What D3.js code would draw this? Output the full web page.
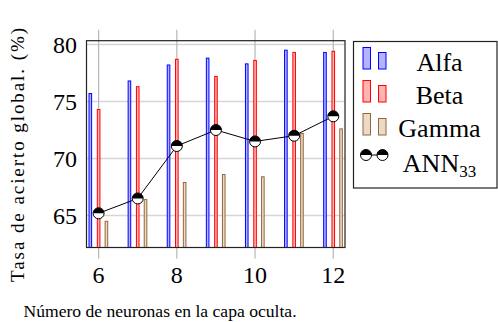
<!DOCTYPE html>
<html>
<head>
<meta charset="utf-8">
<script src="https://cdn.jsdelivr.net/npm/d3@7"></script>
<style>
body { margin: 0; background: #fff; }
text { font-family: "Liberation Serif", "DejaVu Serif", serif; fill: #000; }
</style>
</head>
<body>
<svg id="chart" width="498" height="322"></svg>
<script>
// neuronas en la capa oculta
var neurons = [6, 7, 8, 9, 10, 11, 12];
var alfa  = [75.7, 76.8, 78.2, 78.8, 78.3, 79.5, 79.3];
var beta  = [74.3, 76.3, 78.7, 77.2, 78.6, 79.3, 79.4];
var gamma = [64.5, 66.4, 67.9, 68.6, 68.4, 72.2, 72.6];
var ann33 = [65.2, 66.5, 71.1, 72.5, 71.5, 72.0, 73.7];
var xTicks = [6, 8, 10, 12];
var yTicks = [65, 70, 75, 80];

var svg = d3.select("#chart");

var x = d3.scaleLinear().domain([5.69, 12.3]).range([86.5, 345]);
var y = d3.scaleLinear().domain([62.2, 80.33]).range([247.5, 40.7]);

var series = [
	{ name: "Alfa",  values: alfa,  stroke: "#0000ff", fill: "#b3b3ff", dx: -8.3 },
	{ name: "Beta",  values: beta,  stroke: "#ff0000", fill: "#ffb3b3", dx: 0 },
	{ name: "Gamma", values: gamma, stroke: "#94683e", fill: "#ecd9c6", dx: 7.8 }
];

svg.append("defs").append("clipPath").attr("id", "plotclip")
	.append("rect")
		.attr("x", x.range()[0]).attr("y", y.range()[1])
		.attr("width", x.range()[1] - x.range()[0])
		.attr("height", y.range()[0] - y.range()[1]);

// grid
var grid = svg.append("g");
grid.selectAll("line.h").data(yTicks).enter()
	.append("line")
		.attr("x1", x.range()[0]).attr("x2", x.range()[1])
		.attr("y1", function(d) { return y(d); })
		.attr("y2", function(d) { return y(d); })
		.style("stroke", "#d6d6d6").style("stroke-width", 1.6);
grid.selectAll("line.v").data(xTicks).enter()
	.append("line")
		.attr("x1", function(d) { return x(d); })
		.attr("x2", function(d) { return x(d); })
		.attr("y1", y.range()[1] - 11).attr("y2", y.range()[0] + 11)
		.style("stroke", "#b8b8b8").style("stroke-width", 1.2);

// bars
var bars = svg.append("g").attr("clip-path", "url(#plotclip)");
series.forEach(function(s)
{
	bars.selectAll(null).data(s.values).enter()
	.append("rect")
		.attr("x", function(d, i) { return x(neurons[i]) + s.dx - 1.3; })
		.attr("y", function(d) { return y(d); })
		.attr("width", 2.6)
		.attr("height", function(d) { return y.range()[0] + 5 - y(d); })
		.style("fill", s.fill)
		.style("stroke", s.stroke)
		.style("stroke-width", 1);
});

// ANN line
var line = d3.line()
	.x(function(d, i) { return x(neurons[i]); })
	.y(function(d) { return y(d); });
svg.append("path")
	.attr("d", line(ann33))
	.style("fill", "none").style("stroke", "#000").style("stroke-width", 1);

function halfMarker(g, cx, cy, r)
{
	var m = g.append("g").attr("transform", "translate(" + cx + "," + cy + ")");
	m.append("circle").attr("r", r).style("fill", "#fff");
	var p = d3.path();
	p.moveTo(-r, 0);
	p.arc(0, 0, r, Math.PI, 2 * Math.PI);
	p.closePath();
	m.append("path").attr("d", p.toString()).style("fill", "#000");
	m.append("circle").attr("r", r).style("fill", "none").style("stroke", "#000").style("stroke-width", 1);
}
var markers = svg.append("g");
ann33.forEach(function(d, i) { halfMarker(markers, x(neurons[i]), y(d), 5.5); });

// axis box
svg.append("rect")
	.attr("x", x.range()[0]).attr("y", y.range()[1])
	.attr("width", x.range()[1] - x.range()[0])
	.attr("height", y.range()[0] - y.range()[1])
	.style("fill", "none").style("stroke", "#222").style("stroke-width", 1.2);

// tick labels
svg.append("g").selectAll("text").data(xTicks).enter()
	.append("text")
		.attr("x", function(d) { return x(d); })
		.attr("y", 283)
		.attr("text-anchor", "middle")
		.style("font-size", "24px")
		.text(function(d) { return d; });
svg.append("g").selectAll("text").data(yTicks).enter()
	.append("text")
		.attr("x", 77)
		.attr("y", function(d) { return y(d); })
		.attr("dy", "0.34em")
		.attr("text-anchor", "end")
		.style("font-size", "24px")
		.text(function(d) { return d; });

// axis titles
svg.append("text")
	.attr("x", 160).attr("y", 317)
	.attr("text-anchor", "middle")
	.style("font-size", "17.6px")
	.text("Número de neuronas en la capa oculta.");
svg.append("text")
	.attr("transform", "translate(24,155) rotate(-90)")
	.attr("text-anchor", "middle")
	.attr("textLength", 254)
	.attr("lengthAdjust", "spacing")
	.style("font-size", "19px")
	.text("Tasa de acierto global. (%)");

// legend
var leg = svg.append("g");
leg.append("rect")
	.attr("x", 353.5).attr("y", 41.5).attr("width", 143.5).attr("height", 146.5)
	.style("fill", "#fff").style("stroke", "#222").style("stroke-width", 1.2);
series.forEach(function(s, i)
{
	var base = 69 + i * 33;
	leg.append("rect").attr("x", 363).attr("y", base - 21.5).attr("width", 7.5).attr("height", 21.5)
		.style("fill", s.fill).style("stroke", s.stroke).style("stroke-width", 1);
	leg.append("rect").attr("x", 378.5).attr("y", base - 16.5).attr("width", 7.5).attr("height", 16.5)
		.style("fill", s.fill).style("stroke", s.stroke).style("stroke-width", 1);
	leg.append("text")
		.attr("x", 439.5).attr("y", base + 1.5)
		.attr("text-anchor", "middle")
		.style("font-size", "26px")
		.text(s.name);
});
leg.append("line").attr("x1", 366).attr("x2", 382.5).attr("y1", 155).attr("y2", 155)
	.style("stroke", "#000").style("stroke-width", 1);
halfMarker(leg, 366, 155, 5.5);
halfMarker(leg, 382.5, 155, 5.5);
var annText = leg.append("text")
	.attr("x", 439.5).attr("y", 172)
	.attr("text-anchor", "middle")
	.style("font-size", "26px");
annText.append("tspan").text("ANN");
annText.append("tspan").attr("dy", 5).style("font-size", "17px").text("33");
</script>
</body>
</html>
